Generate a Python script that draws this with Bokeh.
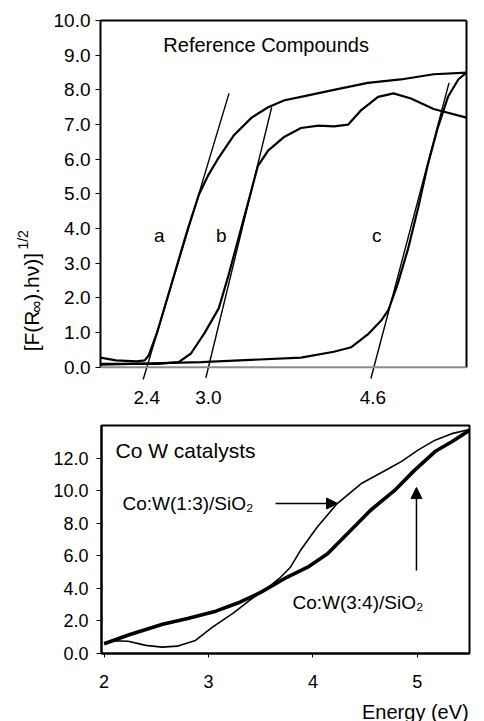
import math
from bokeh.plotting import figure
from bokeh.layouts import column, row
from bokeh.models import (Range1d, LinearAxis, FixedTicker, NumeralTickFormatter,
                          Label, Span, Arrow, NormalHead)
from bokeh.core.properties import value
from bokeh.embed import file_html
from bokeh.resources import INLINE

FONT = "Liberation Sans"

# ---------------- top panel: Reference Compounds ----------------
energy_a = [1.95, 2.10, 2.30, 2.38, 2.42, 2.50, 2.60, 2.70, 2.80, 2.91, 3.00, 3.10,
            3.25, 3.42, 3.58, 3.74, 3.90, 4.22, 4.55, 4.87, 5.19, 5.51]
value_a = [0.28, 0.20, 0.17, 0.20, 0.35, 1.00, 2.00, 3.00, 4.00, 5.00, 5.55, 6.05,
           6.70, 7.20, 7.50, 7.70, 7.80, 8.00, 8.20, 8.30, 8.45, 8.50]

energy_b = [1.95, 2.50, 2.71, 2.83, 2.96, 3.10, 3.19, 3.29, 3.39, 3.48, 3.58, 3.74,
            3.90, 4.07, 4.22, 4.36, 4.48, 4.65, 4.80, 4.97, 5.19, 5.51]
value_b = [0.10, 0.10, 0.15, 0.40, 0.98, 1.70, 2.60, 3.70, 4.80, 5.80, 6.25, 6.65,
           6.90, 6.97, 6.95, 7.00, 7.40, 7.80, 7.90, 7.75, 7.45, 7.20]

energy_c = [1.95, 2.93, 3.90, 4.22, 4.39, 4.55, 4.68, 4.75, 4.84, 4.94, 5.04, 5.13,
            5.23, 5.33, 5.43, 5.51]
value_c = [0.08, 0.15, 0.28, 0.45, 0.58, 0.95, 1.35, 1.65, 2.40, 3.40, 4.60, 5.80,
           6.90, 7.80, 8.30, 8.50]

tangent_a_energy = [2.355, 3.20]
tangent_a_value = [-0.45, 7.90]
tangent_b_energy = [2.975, 3.615]
tangent_b_value = [-0.30, 7.50]
tangent_c_energy = [4.58, 5.34]
tangent_c_value = [-0.32, 8.20]

onset_energies = [2.4, 3.0, 4.6]
top_y_ticks = [0, 1, 2, 3, 4, 5, 6, 7, 8, 9, 10]
curve_labels = ["a", "b", "c"]

# ---------------- bottom panel: Co W catalysts ----------------
energy_13 = [2.00, 2.10, 2.23, 2.40, 2.556, 2.70, 2.875, 3.035, 3.24, 3.40, 3.56, 3.69,
             3.785, 3.88, 4.04, 4.23, 4.46, 4.71, 4.85, 5.01, 5.17, 5.33, 5.50]
value_13 = [0.60, 0.78, 0.75, 0.50, 0.39, 0.45, 0.80, 1.60, 2.50, 3.30, 4.00, 4.68,
            5.30, 6.32, 7.75, 9.19, 10.42, 11.30, 11.80, 12.50, 13.10, 13.50, 13.75]

energy_34 = [2.00, 2.24, 2.56, 2.80, 3.07, 3.30, 3.50, 3.75, 3.95, 4.14, 4.33, 4.55,
             4.78, 4.97, 5.17, 5.33, 5.50]
value_34 = [0.60, 1.15, 1.80, 2.15, 2.60, 3.15, 3.75, 4.68, 5.30, 6.12, 7.35, 8.78,
            10.00, 11.23, 12.40, 13.00, 13.70]

bottom_x_ticks = [2, 3, 4, 5]
bottom_y_ticks = [0, 2, 4, 6, 8, 10, 12]


def blank_strip(w, h):
    f = figure(width=w, height=h, output_backend="svg", toolbar_location=None,
               x_range=Range1d(0, w), y_range=Range1d(0, h),
               x_axis_location=None, y_axis_location=None,
               min_border=0, outline_line_color=None,
               background_fill_color="white", border_fill_color="white")
    f.grid.visible = False
    return f


# ======================= y-title strip (left of top panel) =======================
ylab = blank_strip(50, 420)
rot = math.pi / 2
# pieces of  [F(R∞ ).hν)]^1/2  placed bottom-to-top (pixel units of this strip)
ylab.text(x=[31], y=[33], text=["[F(R"], angle=rot, text_font=value(FONT), text_color="black",
          text_font_size="21px", text_align="left", text_baseline="alphabetic")
ylab.text(x=[36], y=[78], text=["∞"], angle=rot, text_font=value(FONT), text_color="black",
          text_font_size="17px", text_align="left", text_baseline="alphabetic")
ylab.text(x=[31], y=[92], text=[" ).hν)]"], angle=rot, text_font=value(FONT), text_color="black",
          text_font_size="21px", text_align="left", text_baseline="alphabetic")
ylab.text(x=[22], y=[152], text=["1/2"], angle=rot, text_font=value(FONT), text_color="black",
          text_font_size="14px", text_align="left", text_baseline="alphabetic")

# ======================= top figure =======================
top = figure(width=434, height=420, output_backend="svg", toolbar_location=None,
             x_range=Range1d(1.95, 5.51), y_range=Range1d(-0.35, 10),
             min_border_left=49, min_border_right=18, min_border_top=20, min_border_bottom=41,
             outline_line_color=None, background_fill_color="white", border_fill_color="white")
top.grid.visible = False

xa = top.xaxis[0]
xa.ticker = FixedTicker(ticks=onset_energies)
xa.formatter = NumeralTickFormatter(format="0.0")
xa.axis_line_color = None
xa.major_tick_line_color = None
xa.minor_tick_line_color = None
xa.major_label_standoff = 5
xa.major_label_text_font = FONT
xa.major_label_text_font_size = "19px"
xa.major_label_text_color = "black"

ya = top.yaxis[0]
ya.ticker = FixedTicker(ticks=top_y_ticks)
ya.formatter = NumeralTickFormatter(format="0.0")
ya.bounds = (0, 10)
ya.axis_line_width = 2
ya.axis_line_color = "black"
ya.major_tick_out = 5
ya.major_tick_in = 0
ya.major_tick_line_color = "black"
ya.minor_tick_line_color = None
ya.major_label_standoff = 5
ya.major_label_text_font = FONT
ya.major_label_text_font_size = "19px"
ya.major_label_text_color = "black"

right_ax = LinearAxis(bounds=(0, 10), ticker=FixedTicker(ticks=[]),
                      major_tick_line_color=None, minor_tick_line_color=None,
                      axis_line_width=2, axis_line_color="black", major_label_standoff=0)
top.add_layout(right_ax, "right")
above_ax = LinearAxis(ticker=FixedTicker(ticks=[]), major_tick_line_color=None,
                      minor_tick_line_color=None, axis_line_width=2, axis_line_color="black",
                      major_label_standoff=0)
top.add_layout(above_ax, "above")

top.add_layout(Span(location=0, dimension="width", line_color="#8c8c8c", line_width=2))

for ex, vy in [(energy_a, value_a), (energy_b, value_b), (energy_c, value_c)]:
    top.line(ex, vy, line_color="black", line_width=2.2)
for ex, vy in [(tangent_a_energy, tangent_a_value), (tangent_b_energy, tangent_b_value),
               (tangent_c_energy, tangent_c_value)]:
    top.line(ex, vy, line_color="black", line_width=1.4)

top.add_layout(Label(x=2.561, y=9.28, text="Reference Compounds", text_font=FONT,
                     text_color="black",
                     text_font_size="20px", text_baseline="middle", text_align="left"))
for lx, lt in zip([2.522, 3.124, 4.637], curve_labels):
    top.add_layout(Label(x=lx, y=3.80, text=lt, text_font=FONT, text_font_size="19px",
                         text_color="black", text_baseline="middle", text_align="center"))

# ======================= bottom figure =======================
bot = figure(width=484, height=281, output_backend="svg", toolbar_location=None,
             x_range=Range1d(1.975, 5.5), y_range=Range1d(0, 14),
             min_border_left=101, min_border_right=15, min_border_top=5, min_border_bottom=48,
             outline_line_color="black", outline_line_width=2,
             background_fill_color="white", border_fill_color="white")
bot.grid.visible = False

bx = bot.xaxis[0]
bx.ticker = FixedTicker(ticks=bottom_x_ticks)
bx.axis_line_width = 2
bx.axis_line_color = "black"
bx.major_tick_out = 4
bx.major_tick_in = 0
bx.major_tick_line_color = "black"
bx.minor_tick_line_color = None
bx.major_label_standoff = 17
bx.major_label_text_font = FONT
bx.major_label_text_font_size = "18px"
bx.major_label_text_color = "black"

by = bot.yaxis[0]
by.ticker = FixedTicker(ticks=bottom_y_ticks)
by.formatter = NumeralTickFormatter(format="0.0")
by.axis_line_width = 2
by.axis_line_color = "black"
by.major_tick_out = 5
by.major_tick_in = 0
by.major_tick_line_color = "black"
by.minor_tick_line_color = None
by.major_label_standoff = 8
by.major_label_text_font = FONT
by.major_label_text_font_size = "18px"
by.major_label_text_color = "black"

bot.line(energy_13, value_13, line_color="black", line_width=1.6)
bot.line(energy_34, value_34, line_color="black", line_width=3.6)

bot.add_layout(Label(x=2.109, y=12.46, text="Co W catalysts", text_font=FONT,
                     text_color="black",
                     text_font_size="21px", text_baseline="middle", text_align="left"))
bot.add_layout(Label(x=2.176, y=9.21, text="Co:W(1:3)/SiO₂", text_font=FONT,
                     text_color="black",
                     text_font_size="19px", text_baseline="middle", text_align="left"))
bot.add_layout(Label(x=3.804, y=3.13, text="Co:W(3:4)/SiO₂", text_font=FONT,
                     text_color="black",
                     text_font_size="19px", text_baseline="middle", text_align="left"))
bot.add_layout(Arrow(x_start=3.642, y_start=9.21, x_end=4.236, y_end=9.21,
                     line_width=1.5, line_color="black",
                     end=NormalHead(size=11, fill_color="black", line_color="black")))
bot.add_layout(Arrow(x_start=4.992, y_start=5.1, x_end=4.992, y_end=10.19,
                     line_width=1.5, line_color="black",
                     end=NormalHead(size=11, fill_color="black", line_color="black")))

# ======================= x-title strip (below bottom panel) =======================
xlab = blank_strip(484, 20)
xlab.text(x=[483], y=[10], text=["Energy (eV)"], text_font=value(FONT), text_color="black",
          text_font_size="20px", text_align="right", text_baseline="middle")

layout = column(row(ylab, top, spacing=0), bot, xlab, spacing=0)
open("out.html", "w").write(file_html(layout, INLINE))
